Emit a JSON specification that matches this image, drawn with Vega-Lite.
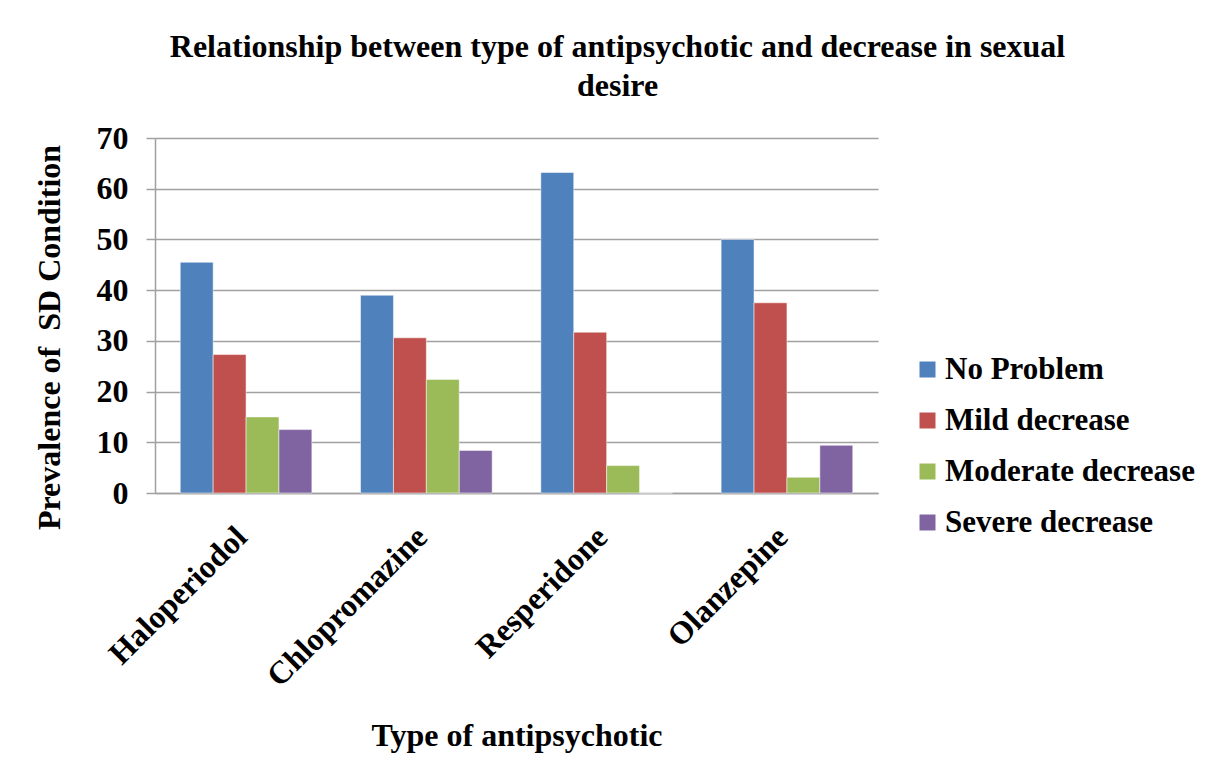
{
  "$schema": "https://vega.github.io/schema/vega-lite/v6.json",
  "width": 723,
  "height": 355,
  "autosize": {"type": "none"},
  "padding": {"left": 155, "top": 138, "right": 350, "bottom": 285},
  "background": "white",
  "title": {
    "text": ["Relationship between type of antipsychotic and decrease in sexual", "desire"],
    "font": "Liberation Serif",
    "fontSize": 32,
    "fontWeight": "bold",
    "color": "black",
    "anchor": "middle",
    "frame": "group",
    "dx": 101,
    "offset": 19,
    "lineHeight": 39
  },
  "data": {
    "values": [
      {"drug": "Haloperiodol", "level": "No Problem", "value": 45.5},
      {"drug": "Haloperiodol", "level": "Mild decrease", "value": 27.3},
      {"drug": "Haloperiodol", "level": "Moderate decrease", "value": 15.0},
      {"drug": "Haloperiodol", "level": "Severe decrease", "value": 12.5},
      {"drug": "Chlopromazine", "level": "No Problem", "value": 39.0},
      {"drug": "Chlopromazine", "level": "Mild decrease", "value": 30.6},
      {"drug": "Chlopromazine", "level": "Moderate decrease", "value": 22.4},
      {"drug": "Chlopromazine", "level": "Severe decrease", "value": 8.4},
      {"drug": "Resperidone", "level": "No Problem", "value": 63.2},
      {"drug": "Resperidone", "level": "Mild decrease", "value": 31.7},
      {"drug": "Resperidone", "level": "Moderate decrease", "value": 5.4},
      {"drug": "Resperidone", "level": "Severe decrease", "value": 0},
      {"drug": "Olanzepine", "level": "No Problem", "value": 50.0},
      {"drug": "Olanzepine", "level": "Mild decrease", "value": 37.5},
      {"drug": "Olanzepine", "level": "Moderate decrease", "value": 3.1},
      {"drug": "Olanzepine", "level": "Severe decrease", "value": 9.4}
    ]
  },
  "mark": {"type": "bar", "stroke": "white", "strokeWidth": 0.5},
  "encoding": {
    "x": {
      "field": "drug",
      "type": "nominal",
      "sort": ["Haloperiodol", "Chlopromazine", "Resperidone", "Olanzepine"],
      "scale": {"paddingInner": 0.27, "paddingOuter": 0.14},
      "axis": {
        "title": "Type of antipsychotic",
        "titleFont": "Liberation Serif",
        "titleFontSize": 32,
        "titleFontWeight": "bold",
        "titleColor": "black",
        "titlePadding": 28,
        "labelAngle": -45,
        "labelFont": "Liberation Serif",
        "labelFontSize": 32,
        "labelFontWeight": "bold",
        "labelColor": "black",
        "labelPadding": 28,
        "labelOffset": -15,
        "labelLimit": 400,
        "ticks": false,
        "domainColor": "#a0a0a0",
        "domainWidth": 1.5
      }
    },
    "xOffset": {
      "field": "level",
      "type": "nominal",
      "sort": ["No Problem", "Mild decrease", "Moderate decrease", "Severe decrease"],
      "scale": {"paddingInner": 0, "paddingOuter": 0}
    },
    "y": {
      "field": "value",
      "type": "quantitative",
      "scale": {"domain": [0, 70]},
      "axis": {
        "title": "Prevalence of \u00a0SD Condition",
        "titleFont": "Liberation Serif",
        "titleFontSize": 32,
        "titleFontWeight": "bold",
        "titleColor": "black",
        "titlePadding": 30,
        "titleY": 199,
        "values": [0, 10, 20, 30, 40, 50, 60, 70],
        "labelFont": "Liberation Serif",
        "labelFontSize": 32,
        "labelFontWeight": "bold",
        "labelColor": "black",
        "labelPadding": 18,
        "tickSize": 9,
        "tickColor": "#a0a0a0",
        "tickWidth": 1.5,
        "domainColor": "#a0a0a0",
        "domainWidth": 1.5,
        "gridColor": "#a0a0a0",
        "gridWidth": 1.5
      }
    },
    "color": {
      "field": "level",
      "type": "nominal",
      "sort": ["No Problem", "Mild decrease", "Moderate decrease", "Severe decrease"],
      "scale": {
        "domain": ["No Problem", "Mild decrease", "Moderate decrease", "Severe decrease"],
        "range": ["#4F81BD", "#C0504D", "#9BBB59", "#8064A2"]
      },
      "legend": {
        "title": null,
        "orient": "none",
        "legendX": 757,
        "legendY": 216,
        "symbolType": "square",
        "symbolSize": 256,
        "symbolStrokeWidth": 0,
        "labelFont": "Liberation Serif",
        "labelFontSize": 31,
        "labelFontWeight": "bold",
        "labelColor": "black",
        "labelLimit": 400,
        "labelOffset": 2,
        "rowPadding": 19
      }
    }
  },
  "config": {"view": {"stroke": null}}
}
